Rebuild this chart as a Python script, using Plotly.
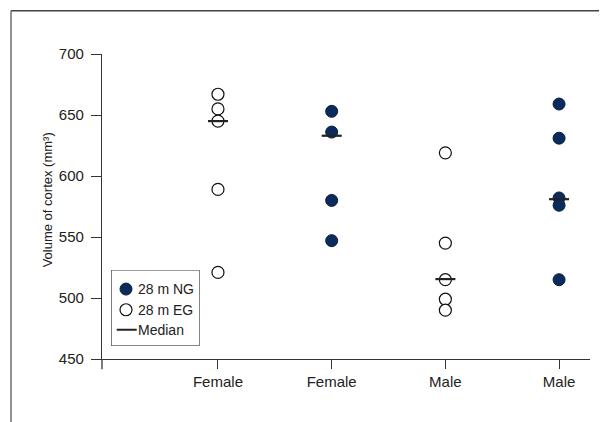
import plotly.graph_objects as go

# ---- data ----
categories = ["Female", "Female", "Male", "Male"]
cat_pos = [0, 1, 2, 3]

ng_x = [1, 1, 1, 1, 3, 3, 3, 3, 3]
ng_values = [653, 636, 580, 547, 659, 631, 582, 576, 515]

eg_x = [0, 0, 0, 0, 0, 2, 2, 2, 2, 2]
eg_values = [667, 655, 645, 589, 521, 619, 545, 515, 499, 490]

median_x = [0, 1, 2, 3]
median_values = [645, 633, 515.5, 581]

y_ticks = [450, 500, 550, 600, 650, 700]

legend_labels = ["28 m NG", "28 m EG", "Median"]

FONT = "Liberation Sans, Arial, sans-serif"
AX = "#333333"
TXT = "#222222"
NAVY = "#0b2b5c"
NG_MARKER = dict(size=12, color=NAVY, line=dict(color="#0a1f40", width=1))
EG_MARKER = dict(size=12, color="white", line=dict(color="#111111", width=1.2))
MED_LINE = dict(color="#222222", width=2.2)

half = 0.088
mx, my = [], []
for x, v in zip(median_x, median_values):
    mx += [x - half, x + half, None]
    my += [v, v, None]

fig = go.Figure()
fig.add_trace(go.Scatter(x=ng_x, y=ng_values, mode="markers", name=legend_labels[0],
                         marker=NG_MARKER, showlegend=False))
fig.add_trace(go.Scatter(x=eg_x, y=eg_values, mode="markers", name=legend_labels[1],
                         marker=EG_MARKER, showlegend=False))
fig.add_trace(go.Scatter(x=mx, y=my, mode="lines", name=legend_labels[2],
                         line=MED_LINE, showlegend=False))

# page offset (body margin) between figure and screenshot
OFF = 8
W, H = 607, 422
L, R, T, B = 102 - OFF, 590 - OFF, 54 - OFF, 359.3 - OFF
pw, ph = R - L, B - T

def px(x):  # screen x -> paper
    return (x - OFF - L) / pw

def py(y):  # screen y -> paper
    return (B - (y - OFF)) / ph

# ---- legend box (inset axes in pixel units) ----
LB_L, LB_R, LB_T, LB_B = 111.7, 199.0, 270.7, 345.7
lw, lh = LB_R - LB_L, LB_B - LB_T
row_y = [lh - 18.6, lh - 39.3, lh - 59.3]
sym_x = 14.3
txt_x = 25.0

fig.add_trace(go.Scatter(x=[sym_x], y=[row_y[0]], mode="markers", marker=NG_MARKER,
                         xaxis="x2", yaxis="y2", showlegend=False, hoverinfo="skip"))
fig.add_trace(go.Scatter(x=[sym_x], y=[row_y[1]], mode="markers", marker=EG_MARKER,
                         xaxis="x2", yaxis="y2", showlegend=False, hoverinfo="skip"))
fig.add_trace(go.Scatter(x=[5, 25], y=[row_y[2], row_y[2]], mode="lines", line=MED_LINE,
                         xaxis="x2", yaxis="y2", showlegend=False, hoverinfo="skip"))

annotations = [dict(
    text="Volume of cortex (mm³)", xref="paper", yref="paper",
    x=px(47), y=py(200.5), textangle=-90, showarrow=False,
    xanchor="center", yanchor="middle",
    font=dict(family=FONT, size=13, color=TXT),
)]
for lab, ry in zip(legend_labels, row_y):
    annotations.append(dict(text=lab, xref="x2", yref="y2", x=txt_x, y=ry,
                            xanchor="left", yanchor="middle", showarrow=False,
                            borderpad=0,
                            font=dict(family=FONT, size=14, color=TXT)))

shapes = [
    # y-axis extension below x-axis
    dict(type="line", xref="paper", yref="paper", x0=0, x1=0, y0=0, y1=py(369.5),
         line=dict(color=AX, width=1.3)),
    # outer frame (top and left)
    dict(type="line", xref="paper", yref="paper", x0=px(11), x1=px(W + 20), y0=py(10.7), y1=py(10.7),
         line=dict(color="#444444", width=1.6)),
    dict(type="line", xref="paper", yref="paper", x0=px(11), x1=px(11), y0=py(10.7), y1=py(H + 20),
         line=dict(color="#777777", width=1.6)),
    # legend border
    dict(type="rect", xref="paper", yref="paper", x0=px(LB_L), x1=px(LB_R), y0=py(LB_B), y1=py(LB_T),
         line=dict(color=AX, width=1.2), fillcolor="white", layer="below"),
]

fig.update_layout(
    width=W, height=H,
    margin=dict(l=L, r=W - R, t=T, b=H - B),
    paper_bgcolor="white", plot_bgcolor="white",
    font=dict(family=FONT, size=15, color=TXT),
    showlegend=False,
    xaxis=dict(
        range=[-1.02, 3.272], tickmode="array", tickvals=cat_pos, ticktext=categories,
        showline=True, linecolor=AX, linewidth=1.3, ticks="outside", ticklen=9,
        tickcolor=AX, tickwidth=1.3, showgrid=False, zeroline=False, fixedrange=True,
        tickfont=dict(family=FONT, size=15, color=TXT),
    ),
    yaxis=dict(
        range=[450, 700], tickmode="array", tickvals=y_ticks,
        showline=True, linecolor=AX, linewidth=1.3, ticks="outside", ticklen=10,
        tickcolor=AX, tickwidth=1.3, showgrid=False, zeroline=False, fixedrange=True,
        ticklabelstandoff=4,
        tickfont=dict(family=FONT, size=15, color=TXT),
    ),
    xaxis2=dict(domain=[px(LB_L), px(LB_R)], range=[0, lw], visible=False,
                anchor="y2", fixedrange=True),
    yaxis2=dict(domain=[py(LB_B), py(LB_T)], range=[0, lh], visible=False,
                anchor="x2", fixedrange=True),
    shapes=shapes,
    annotations=annotations,
)

fig.write_html("out.html")
